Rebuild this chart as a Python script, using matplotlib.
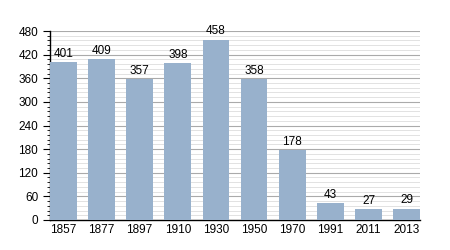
import matplotlib
matplotlib.use("Agg")
import matplotlib.pyplot as plt
from matplotlib.ticker import MultipleLocator

years = ["1857", "1877", "1897", "1910", "1930", "1950", "1970", "1991", "2011", "2013"]
population = [401, 409, 357, 398, 458, 358, 178, 43, 27, 29]

plt.rcParams["font.family"] = ["Liberation Sans", "DejaVu Sans"]

fig = plt.figure(figsize=(4.5, 2.5), dpi=100)
ax = fig.add_axes([50/450, 1 - 220/250, 370/450, 189/250])

x = list(range(len(years)))
ax.bar(x, population, width=0.7, color="#98b1cc", zorder=3)
for xi, v in zip(x, population):
    ax.text(xi, v + 6, str(v), ha="center", va="bottom", fontsize=8.5, color="black", zorder=4)

ax.set_xlim(-0.35, len(years) - 1 + 0.35)
ax.set_ylim(0, 480)
ax.yaxis.set_major_locator(MultipleLocator(60))
ax.yaxis.set_minor_locator(MultipleLocator(12))
ax.grid(which="major", axis="y", color="#aaaaaa", linewidth=0.8, zorder=0)
ax.grid(which="minor", axis="y", color="#dddddd", linewidth=0.6, zorder=0)
ax.set_xticks(x)
ax.set_xticklabels(years, fontsize=8.5)
ax.tick_params(axis="x", length=0, pad=3)
ax.tick_params(axis="y", which="major", length=5, width=0.8, direction="out", labelsize=8.5)
ax.tick_params(axis="y", which="minor", length=2.5, width=0.6, direction="out")
for s in ["top", "right"]:
    ax.spines[s].set_visible(False)
ax.spines["left"].set_linewidth(1)
ax.spines["bottom"].set_linewidth(1)

fig.savefig("out.png", dpi=100)
